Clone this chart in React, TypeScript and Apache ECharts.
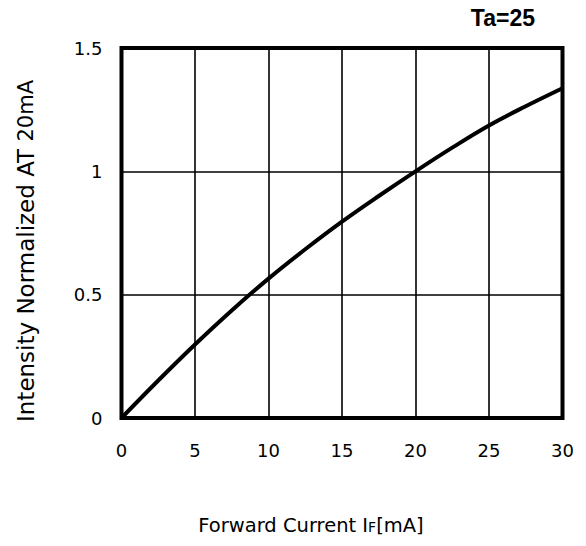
import React, { useEffect, useRef } from "react";
import * as echarts from "echarts";

const currents = [0, 2.5, 5, 7.5, 10, 12.5, 15, 17.5, 20, 22.5, 25, 27.5, 30];
const intensity = [0, 0.152, 0.298, 0.436, 0.565, 0.684, 0.796, 0.9, 1.0, 1.096, 1.186, 1.264, 1.337];
const xTicks = { min: 0, max: 30, interval: 5 };
const yTicks = { min: 0, max: 1.5, interval: 0.5 };
const condition = "Ta=25";
const xTitleParts = ["Forward Current I", "F", "[mA]"];
const yTitleParts = ["Intensity Normalized AT ", "20mA"];

export default function App() {
  const ref = useRef<HTMLDivElement>(null);
  useEffect(() => {
    if (!ref.current) return;
    const chart = echarts.init(ref.current, undefined, { renderer: "svg" });
    const font = "DejaVu Sans";
    chart.setOption({
      animation: false,
      backgroundColor: "#ffffff",
      grid: {
        left: 121.5,
        right: 23.5,
        top: 48,
        bottom: 128,
        show: true,
        borderWidth: 4,
        borderColor: "#000",
        backgroundColor: "transparent",
      },
      xAxis: {
        type: "value",
        min: xTicks.min,
        max: xTicks.max,
        interval: xTicks.interval,
        axisLine: { show: false },
        axisTick: { show: false },
        axisLabel: { color: "#000", fontSize: 18, fontFamily: font, margin: 23 },
        splitLine: { show: true, lineStyle: { color: "#000", width: 1.6 } },
      },
      yAxis: {
        type: "value",
        min: yTicks.min,
        max: yTicks.max,
        interval: yTicks.interval,
        axisLine: { show: false },
        axisTick: { show: false },
        axisLabel: { color: "#000", fontSize: 18, fontFamily: font, margin: 19 },
        splitLine: { show: true, lineStyle: { color: "#000", width: 1.6 } },
      },
      series: [
        {
          type: "line",
          data: currents.map((c, i) => [c, intensity[i]]),
          smooth: 0.4,
          showSymbol: false,
          lineStyle: { color: "#000", width: 4 },
          z: 5,
        },
      ],
      graphic: [
        {
          type: "text",
          x: 535,
          y: 18,
          style: {
            text: condition,
            fontFamily: "Liberation Sans",
            fontWeight: "bold",
            fontSize: 23,
            fill: "#000",
            textAlign: "right",
            textVerticalAlign: "middle",
          },
        },
        {
          type: "text",
          x: 311,
          y: 525,
          style: {
            text: `{a|${xTitleParts[0]}}{b|${xTitleParts[1]}}{a|${xTitleParts[2]}}`,
            textAlign: "center",
            textVerticalAlign: "middle",
            rich: {
              a: { fontFamily: font, fontSize: 19.5, fill: "#000", color: "#000" },
              b: { fontFamily: font, fontSize: 14, fill: "#000", color: "#000", padding: [4, 0, 0, 0] },
            },
          },
        },
        {
          type: "text",
          x: 26,
          y: 251,
          rotation: Math.PI / 2,
          style: {
            text: `{a|${yTitleParts[0]}}{b|${yTitleParts[1]}}`,
            textAlign: "center",
            textVerticalAlign: "middle",
            rich: {
              a: { fontFamily: font, fontSize: 23, fill: "#000", color: "#000" },
              b: { fontFamily: font, fontSize: 21, fill: "#000", color: "#000" },
            },
          },
        },
      ],
    });
    return () => chart.dispose();
  }, []);
  return (
    <div
      ref={ref}
      style={{ position: "fixed", left: 0, top: 0, width: 586, height: 546 }}
    />
  );
}
